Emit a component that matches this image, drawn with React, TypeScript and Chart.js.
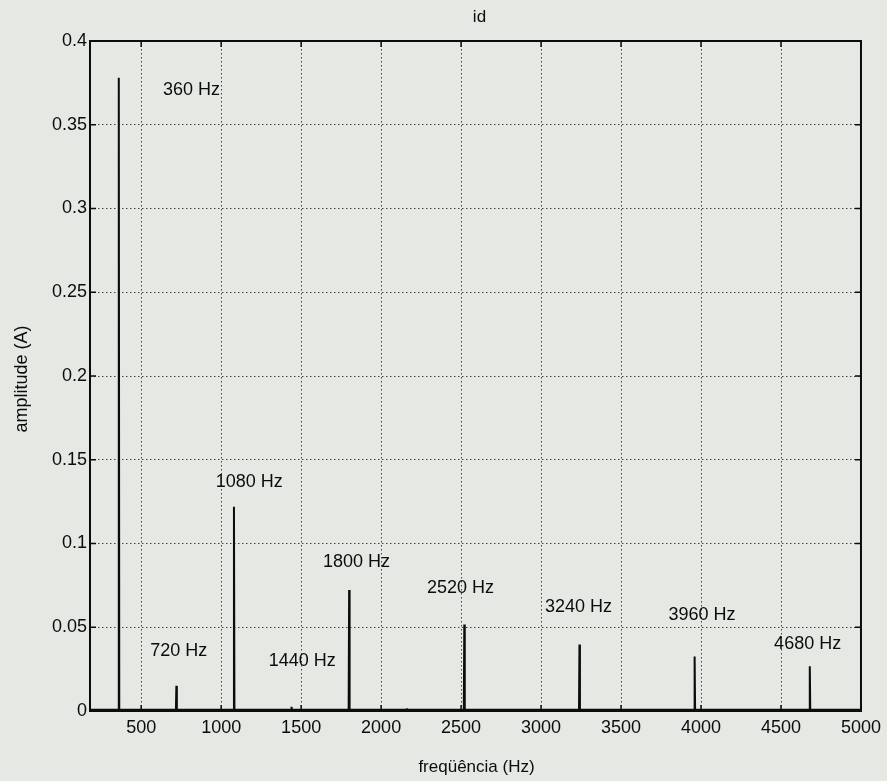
import React, { useEffect, useRef } from "react";
import { Chart, registerables } from "chart.js";

Chart.register(...registerables);

// Harmonic peaks of the spectrum (frequency in Hz, amplitude in A)
const peakFreqs = [360, 720, 1080, 1440, 1800, 2160, 2520, 3240, 3960, 4680];
const peakAmps = [0.378, 0.015, 0.122, 0.0025, 0.0722, 0.0015, 0.0517, 0.0397, 0.0326, 0.0267];

// Annotated harmonics: text, anchor frequency (left edge), anchor amplitude (text middle)
const labelTexts = ["360 Hz", "720 Hz", "1080 Hz", "1440 Hz", "1800 Hz", "2520 Hz", "3240 Hz", "3960 Hz", "4680 Hz"];
const labelFreqs = [636, 557, 966, 1298, 1636, 2287, 3024, 3797, 4457];
const labelAmps = [0.371, 0.036, 0.1365, 0.030, 0.0891, 0.0732, 0.0619, 0.0571, 0.040];

const xTicks = [500, 1000, 1500, 2000, 2500, 3000, 3500, 4000, 4500, 5000];
const yTicks = [0, 0.05, 0.1, 0.15, 0.2, 0.25, 0.3, 0.35, 0.4];

const X_MIN = 180;
const X_MAX = 5000;
const SPIKE_HALF_WIDTH = 3;

const FONT = "Liberation Sans, Arial, sans-serif";
const BG = "#e5e8e3";
const INK = "#0c0c0c";

function buildSpectrum() {
  const pts: { x: number; y: number }[] = [{ x: X_MIN, y: 0 }];
  peakFreqs.forEach((f, i) => {
    pts.push({ x: f - SPIKE_HALF_WIDTH, y: 0 });
    pts.push({ x: f, y: peakAmps[i] });
    pts.push({ x: f + SPIKE_HALF_WIDTH, y: 0 });
  });
  pts.push({ x: X_MAX, y: 0 });
  return pts;
}

const framePlugin = {
  id: "matlabFrame",
  beforeDraw(chart: any) {
    const { ctx, width, height } = chart;
    ctx.save();
    ctx.fillStyle = BG;
    ctx.fillRect(0, 0, width, height);
    ctx.restore();
  },
  afterDraw(chart: any) {
    const { ctx, chartArea: a, scales } = chart;
    const xs = scales.x;
    const ys = scales.y;
    ctx.save();
    // inward tick marks on all four sides
    ctx.strokeStyle = INK;
    ctx.lineWidth = 1.5;
    const tl = 6;
    ctx.beginPath();
    xTicks.forEach((v) => {
      const px = xs.getPixelForValue(v);
      ctx.moveTo(px, a.bottom);
      ctx.lineTo(px, a.bottom - tl);
      ctx.moveTo(px, a.top);
      ctx.lineTo(px, a.top + tl);
    });
    yTicks.forEach((v) => {
      const py = ys.getPixelForValue(v);
      ctx.moveTo(a.left, py);
      ctx.lineTo(a.left + tl, py);
      ctx.moveTo(a.right, py);
      ctx.lineTo(a.right - tl, py);
    });
    ctx.stroke();
    // box
    ctx.lineWidth = 2;
    ctx.strokeRect(a.left, a.top, a.right - a.left, a.bottom - a.top);
    // heavier trace along the zero line
    ctx.lineWidth = 2.5;
    ctx.beginPath();
    ctx.moveTo(a.left, a.bottom - 1);
    ctx.lineTo(a.right, a.bottom - 1);
    ctx.stroke();

    // harmonic annotations
    ctx.fillStyle = INK;
    ctx.font = `18px ${FONT}`;
    ctx.textAlign = "left";
    ctx.textBaseline = "middle";
    labelTexts.forEach((t, i) => {
      ctx.fillText(t, xs.getPixelForValue(labelFreqs[i]), ys.getPixelForValue(labelAmps[i]));
    });

    // title and axis titles
    ctx.textAlign = "center";
    ctx.font = `17px ${FONT}`;
    ctx.fillText("id", (a.left + a.right) / 2 + 4, 17);
    ctx.fillText("freqüência (Hz)", (a.left + a.right) / 2 + 1, 767);
    ctx.save();
    ctx.translate(22, 379);
    ctx.rotate(-Math.PI / 2);
    ctx.font = `18px ${FONT}`;
    ctx.fillText("amplitude (A)", 0, 0);
    ctx.restore();
    ctx.restore();
  },
};

export default function App() {
  const canvasRef = useRef<HTMLCanvasElement | null>(null);

  useEffect(() => {
    if (!canvasRef.current) return;
    const gridStyle = {
      color: "rgba(25,25,25,0.8)",
      lineWidth: 1,
      drawTicks: false,
    };
    const chart = new Chart(canvasRef.current, {
      type: "line",
      data: {
        datasets: [
          {
            data: buildSpectrum(),
            borderColor: INK,
            borderWidth: 2,
            pointRadius: 0,
            tension: 0,
            fill: false,
          },
        ],
      },
      plugins: [framePlugin],
      options: {
        animation: false,
        responsive: false,
        maintainAspectRatio: false,
        layout: { padding: { left: 0, right: 21, top: 41, bottom: 0 } },
        plugins: {
          legend: { display: false },
          tooltip: { enabled: false },
          title: { display: false },
        },
        scales: {
          x: {
            type: "linear",
            min: X_MIN,
            max: X_MAX,
            afterBuildTicks: (s: any) => {
              s.ticks = xTicks.map((v) => ({ value: v }));
            },
            afterFit: (s: any) => {
              s.height = 70;
            },
            grid: gridStyle,
            border: { display: false, dash: [1.5, 2.5] },
            ticks: {
              color: INK,
              font: { family: FONT, size: 18 },
              padding: 6,
              maxRotation: 0,
              autoSkip: false,
              callback: (v: any) => String(v),
            },
          },
          y: {
            type: "linear",
            min: 0,
            max: 0.4,
            afterBuildTicks: (s: any) => {
              s.ticks = yTicks.map((v) => ({ value: v }));
            },
            afterFit: (s: any) => {
              s.width = 90;
            },
            grid: gridStyle,
            border: { display: false, dash: [1.5, 2.5] },
            ticks: {
              color: INK,
              font: { family: FONT, size: 18 },
              padding: 3,
              autoSkip: false,
              callback: (v: any) => String(Math.round(v * 100) / 100),
            },
          },
        },
      },
    });
    return () => chart.destroy();
  }, []);

  return (
    <div style={{ position: "absolute", left: 0, top: 0, width: 887, height: 781 }}>
      <canvas ref={canvasRef} width={887} height={781} style={{ display: "block" }} />
    </div>
  );
}
